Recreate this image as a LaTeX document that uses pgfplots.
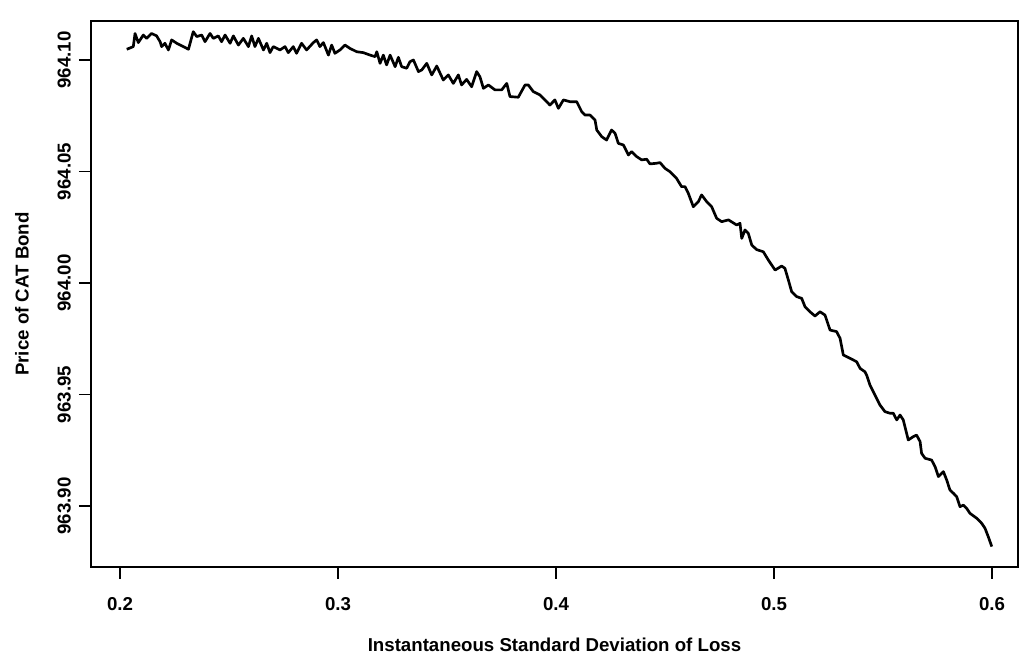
\documentclass[border=0pt]{standalone}
\usepackage{pgfplots}
\pgfplotsset{compat=1.18}
\usepackage{fontspec}
\setmainfont{Liberation Sans}
\begin{document}
\begin{tikzpicture}
\path[use as bounding box] (-68.25pt,-66.75pt) rectangle (696.75pt,425.25pt);
\begin{axis}[
  at={(0pt,0pt)}, anchor=south west,
  scale only axis, width=695.25pt, height=409.5pt,
  xmin=0.186697, xmax=0.611927, ymin=963.872646, ymax=964.117489,
  axis line style={line width=1.5pt},
  tick align=outside, tick pos=left,
  major tick length=9pt,
  tick style={line width=1.2pt, black},
  xtick={0.2,0.3,0.4,0.5,0.6},
  xticklabels={0.2,0.3,0.4,0.5,0.6},
  ytick={963.90,963.95,964.00,964.05,964.10},
  yticklabels={963.90,963.95,964.00,964.05,964.10},
  tick label style={font=\fontsize{14}{16}\selectfont\bfseries},
  xticklabel style={anchor=north, inner sep=0pt},
  yticklabel style={rotate=90, anchor=south, inner sep=0pt},
  xticklabel shift=14pt,
  yticklabel shift=6pt,
  label style={font=\fontsize{14}{16}\selectfont\bfseries},
  xlabel={Instantaneous Standard Deviation of Loss},
  ylabel={Price of CAT Bond},
  xlabel style={at={(axis description cs:0.5,-0.1429)}, anchor=center},
  ylabel style={at={(axis description cs:-0.0744,0.5)}, anchor=center},
  clip=false,
]
\addplot[black, line width=2pt, line join=round] coordinates {
(0.2031,964.1048) (0.2061,964.1060) (0.2069,964.1119) (0.2084,964.1078)
(0.2107,964.1112) (0.2122,964.1097) (0.2145,964.1119) (0.2168,964.1108)
(0.2184,964.1082) (0.2191,964.1060) (0.2206,964.1075) (0.2222,964.1045)
(0.2237,964.1090) (0.2260,964.1075) (0.2291,964.1060) (0.2314,964.1048)
(0.2336,964.1127) (0.2352,964.1105) (0.2375,964.1112) (0.2390,964.1082)
(0.2413,964.1119) (0.2428,964.1097) (0.2451,964.1108) (0.2466,964.1082)
(0.2482,964.1112) (0.2505,964.1075) (0.2520,964.1108) (0.2543,964.1067)
(0.2566,964.1097) (0.2589,964.1060) (0.2604,964.1108) (0.2619,964.1060)
(0.2635,964.1097) (0.2658,964.1045) (0.2673,964.1075) (0.2688,964.1033)
(0.2703,964.1060) (0.2734,964.1045) (0.2757,964.1060) (0.2772,964.1033)
(0.2795,964.1060) (0.2810,964.1030) (0.2833,964.1075) (0.2856,964.1045)
(0.2887,964.1078) (0.2902,964.1090) (0.2917,964.1060) (0.2933,964.1078)
(0.2956,964.1022) (0.2971,964.1067) (0.2986,964.1030) (0.3009,964.1045)
(0.3032,964.1067) (0.3055,964.1052) (0.3086,964.1037) (0.3116,964.1033)
(0.3147,964.1022) (0.3170,964.1015) (0.3178,964.1037) (0.3193,964.0985)
(0.3208,964.1022) (0.3223,964.0978) (0.3239,964.1022) (0.3262,964.0970)
(0.3277,964.1012) (0.3292,964.0970) (0.3315,964.0963) (0.3330,964.0992)
(0.3346,964.1000) (0.3369,964.0948) (0.3384,964.0955) (0.3407,964.0985)
(0.3430,964.0933) (0.3453,964.0973) (0.3483,964.0910) (0.3506,964.0933)
(0.3529,964.0895) (0.3552,964.0933) (0.3567,964.0888) (0.3590,964.0913)
(0.3613,964.0880) (0.3636,964.0948) (0.3651,964.0925) (0.3667,964.0873)
(0.3690,964.0888) (0.3720,964.0866) (0.3751,964.0866) (0.3774,964.0895)
(0.3789,964.0836) (0.3827,964.0833) (0.3858,964.0888) (0.3873,964.0888)
(0.3896,964.0858) (0.3927,964.0843) (0.3957,964.0813) (0.3972,964.0798)
(0.3995,964.0821) (0.4011,964.0783) (0.4034,964.0821) (0.4064,964.0813)
(0.4095,964.0813) (0.4118,964.0768) (0.4133,964.0753) (0.4156,964.0753)
(0.4179,964.0731) (0.4187,964.0686) (0.4210,964.0656) (0.4232,964.0641)
(0.4255,964.0686) (0.4271,964.0671) (0.4286,964.0626) (0.4309,964.0619)
(0.4332,964.0574) (0.4347,964.0589) (0.4370,964.0567) (0.4393,964.0552)
(0.4416,964.0555) (0.4431,964.0534) (0.4462,964.0537) (0.4477,964.0540)
(0.4500,964.0514) (0.4523,964.0499) (0.4553,964.0469) (0.4576,964.0432)
(0.4592,964.0432) (0.4607,964.0402) (0.4630,964.0342) (0.4653,964.0365)
(0.4668,964.0395) (0.4691,964.0365) (0.4714,964.0342) (0.4737,964.0290)
(0.4760,964.0275) (0.4791,964.0283) (0.4829,964.0260) (0.4844,964.0268)
(0.4852,964.0200) (0.4867,964.0238) (0.4882,964.0223) (0.4898,964.0170)
(0.4920,964.0150) (0.4951,964.0140) (0.4974,964.0103) (0.5005,964.0058)
(0.5035,964.0076) (0.5050,964.0066) (0.5066,964.0013) (0.5081,963.9961)
(0.5104,963.9939) (0.5127,963.9931) (0.5142,963.9894) (0.5165,963.9871)
(0.5188,963.9852) (0.5211,963.9871) (0.5234,963.9856) (0.5257,963.9789)
(0.5287,963.9782) (0.5303,963.9752) (0.5318,963.9677) (0.5349,963.9662)
(0.5379,963.9647) (0.5395,963.9617) (0.5417,963.9602) (0.5425,963.9587)
(0.5440,963.9543) (0.5463,963.9498) (0.5486,963.9453) (0.5509,963.9423)
(0.5532,963.9416) (0.5547,963.9416) (0.5563,963.9386) (0.5578,963.9408)
(0.5593,963.9386) (0.5616,963.9296) (0.5639,963.9311) (0.5654,963.9318)
(0.5670,963.9289) (0.5677,963.9236) (0.5693,963.9214) (0.5723,963.9206)
(0.5739,963.9176) (0.5754,963.9132) (0.5777,963.9154) (0.5792,963.9117)
(0.5807,963.9072) (0.5823,963.9057) (0.5838,963.9042) (0.5853,963.8997)
(0.5869,963.9004) (0.5884,963.8989) (0.5899,963.8967) (0.5930,963.8945)
(0.5953,963.8922) (0.5968,963.8900) (0.5983,963.8862) (0.5999,963.8818)
};
\end{axis}
\end{tikzpicture}
\end{document}
